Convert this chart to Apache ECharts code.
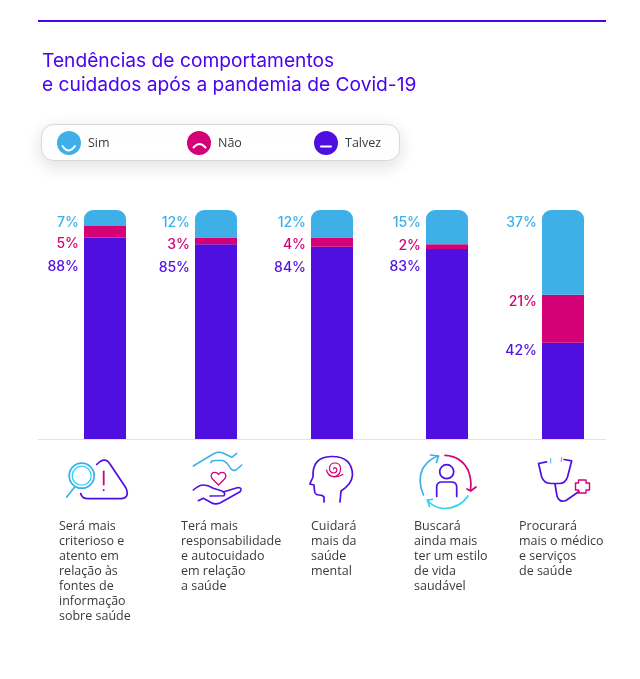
<!DOCTYPE html>
<html>
<head>
<meta charset="utf-8">
<style>
  html, body { margin: 0; background: #fff; }
  #chart { width: 640px; height: 679px; }
</style>
<script src="https://cdn.jsdelivr.net/npm/echarts@6/dist/echarts.min.js"></script>
</head>
<body>
<div id="chart"></div>
<script>
const categories = [
    'Será mais\ncriterioso e\natento em\nrelação às\nfontes de\ninformação\nsobre saúde',
    'Terá mais\nresponsabilidade\ne autocuidado\nem relação\na saúde',
    'Cuidará\nmais da\nsaúde\nmental',
    'Buscará\nainda mais\nter um estilo\nde vida\nsaudável',
    'Procurará\nmais o médico\ne serviços\nde saúde'
];
const sim = [7, 12, 12, 15, 37];
const nao = [5, 3, 4, 2, 21];
const talvez = [88, 85, 84, 83, 42];

const BLUE = '#3fafe8', PINK = '#d40075', PURPLE = '#4f0fe0', CYAN = '#2fd6f2';

// layout, the bars are not evenly spaced in the original so each one has its own grid
const barLeft = [84, 195, 311, 426, 542];
const textLeft = [59, 181, 311, 414, 519];
const labelDy = {
    Sim: [13, 13, 13, 13, 13],
    'Não': [18, 7, 7, 1, 7],
    Talvez: [29, 23, 21, 18, 8]
};

const grids = [], xAxes = [], yAxes = [], seriesList = [];
const stacks = [
    { name: 'Talvez', values: talvez, color: PURPLE, radius: 0 },
    { name: 'Não', values: nao, color: PINK, radius: 0 },
    { name: 'Sim', values: sim, color: BLUE, radius: [9, 9, 0, 0] }
];
categories.forEach(function (cat, i) {
    grids.push({ left: barLeft[i], width: 42, top: 210, height: 229 });
    xAxes.push({
        type: 'category', gridIndex: i, data: [cat],
        axisLine: { show: false }, axisTick: { show: false }, axisLabel: { show: false }
    });
    yAxes.push({ type: 'value', gridIndex: i, min: 0, max: 100, show: false });
    stacks.forEach(function (s) {
        seriesList.push({
            name: s.name,
            type: 'bar',
            stack: 'b' + i,
            xAxisIndex: i,
            yAxisIndex: i,
            barWidth: '100%',
            silent: true,
            animation: false,
            itemStyle: { color: s.color, borderRadius: s.radius },
            label: {
                show: true,
                position: [-5, labelDy[s.name][i]],
                align: 'right',
                verticalAlign: 'middle',
                formatter: '{c}%',
                color: s.color === PURPLE ? '#5212e6' : s.color,
                fontFamily: 'Inter',
                fontWeight: 500,
                fontSize: 14
            },
            data: [s.values[i]]
        });
    });
});

let shapeCount = 0;
function stroke(pathData, color, width) {
    // the graphic component has no plain path type, so every icon stroke is registered as a shape
    const shapeName = 'iconStroke' + (shapeCount++);
    echarts.graphic.registerShape(shapeName, echarts.graphic.extendPath(pathData));
    return {
        type: shapeName, z: 10, silent: true,
        style: { fill: 'none', stroke: color, lineWidth: width || 1.6, lineCap: 'round', lineJoin: 'round' }
    };
}
function ring(cx, cy, r, color, width) {
    return {
        type: 'circle', z: 10, silent: true,
        shape: { cx: cx, cy: cy, r: r },
        style: { fill: 'none', stroke: color, lineWidth: width || 1.6 }
    };
}

const graphics = [
    // top rule and axis rule
    { type: 'line', shape: { x1: 38, y1: 21, x2: 606, y2: 21 }, style: { stroke: '#4a06e8', lineWidth: 2 } },
    { type: 'line', shape: { x1: 38, y1: 439.5, x2: 606, y2: 439.5 }, style: { stroke: '#e2e2e6', lineWidth: 1 } },
    // legend box
    {
        type: 'rect', z: -1,
        shape: { x: 41.5, y: 124.5, width: 358, height: 36, r: 12 },
        style: { fill: '#fff', stroke: '#d8d8d8', lineWidth: 1, shadowBlur: 18, shadowColor: 'rgba(0,0,0,0.13)', shadowOffsetY: 5 }
    },
    // legend faces
    stroke('M62.5,146 Q68.5,155 75,146', '#fff', 2),
    stroke('M193.5,147.5 Q199.5,140.5 205.5,147.5', '#fff', 2),
    stroke('M321,146.5 L331,146.5', '#fff', 2),

    // icon 1
    ring(81.7, 475.7, 12.5, BLUE, 1.8),
    ring(81.7, 475.7, 9.5, CYAN, 1.3),
    stroke('M66.7,497 L74.3,487.5', BLUE, 1.7),
    stroke('M96.7,464.5 Q105,456 110,464 L126,488 Q130,498 121,498.7 L88,498.7 Q82,498.7 80.7,493.5', PURPLE, 1.7),
    stroke('M103.7,471.5 L103.7,484.5', PINK, 1.8),
    stroke('M103.7,489.8 L103.7,490.3', PINK, 1.8),

    // icon 2
    stroke('M193.3,466 L214,453.5 Q219,451 224,453.5 L231.7,457.3 L236.7,453.3', BLUE),
    stroke('M210.7,462.5 Q212,460.5 215,460.5 L222,460.5 Q226,461 229,466 Q232,472 236,470 L241.7,465', BLUE),
    stroke('M218.5,485 L212.5,479 Q209.5,475 213,472.7 Q216.5,471.5 218.5,474.5 Q220.5,471.5 224,472.7 Q227.5,475 224.5,479 Z', PINK, 1.3),
    stroke('M193.3,490 Q199,485 203.3,485 Q208,485 213.3,488.3 L222,491 Q226,493 224,495.7 L210,496', PURPLE),
    stroke('M198.3,500.7 L203.3,498.3 L211,502.5 Q215,505 220,503 L240,491.7 Q243,488 238,487.5 L224,491.7', PURPLE),

    // icon 3
    stroke('M324,502 L324,497 Q323,495 319,495 Q315,495 314.5,491 L314,485 L309.8,484 L313,477 Q312,457 331,456.5 Q352,456 352.5,475 Q352,484 341,491 L340,502', PURPLE, 1.7),
    stroke('M333.5,469 Q334.5,466.5 336.5,468.5 Q338,472 334,473 Q329.5,473 329.5,468 Q330,463 335,463 Q340,463 340.5,468 Q341,475 335,476.5 Q328,477 326.5,470', PINK, 1.2),
    stroke('M334,476.8 Q339,477 342.7,474.5', PINK, 1.2),

    // icon 4
    stroke('M445,455.3 Q461,456 468,470 Q472,480 470.5,490', PINK, 1.7),
    stroke('M467,489 L470.7,491 L476,487', PINK, 1.7),
    stroke('M423.5,495 Q417,480 423,468 Q429,459 438,456', BLUE, 1.7),
    stroke('M430.5,455 L438.5,456 L436.5,462.5', BLUE, 1.7),
    stroke('M468,496 Q460,508 444,508.5 Q434,508 427.5,500.5', CYAN, 1.7),
    stroke('M432.5,499.3 L427.3,500 L429.5,506.5', CYAN, 1.7),
    ring(446.7, 471.7, 7, PURPLE, 1.7),
    stroke('M436.7,496.5 L436.7,487 Q436.7,482 442,482 L451,482 Q456.7,482 456.7,487 L456.7,496.5', PURPLE, 1.7),

    // icon 5
    stroke('M546.5,461.8 L538.5,463.5 L541.7,477 Q544,483.5 551,483.5 L559,483.5 Q565.5,483.5 567.5,477 L571.7,460.8 L564,459.5', PURPLE, 1.7),
    stroke('M550.7,458.5 L550.7,463', BLUE, 1),
    stroke('M561.7,457.5 L561.2,461.5', BLUE, 1),
    stroke('M555,484 L557,496 Q559,503 566,500.5 L579,491.5', PURPLE, 1.7),
    stroke('M578.5,480 L586,480 L586,483 L589.5,483 L589.5,490 L586,490 L586,493 L578.5,493 L578.5,490 L575.5,490 L575.5,483 L578.5,483 Z', PINK, 1.4)
];

// category texts under the icons
categories.forEach(function (cat, i) {
    graphics.push({
        type: 'text', silent: true,
        x: textLeft[i], y: 519,
        style: { text: cat, fill: '#3a3a3a', font: '12.5px "Open Sans"', lineHeight: 15 }
    });
});

function legendItem(name, left) {
    return {
        data: [name], left: left, top: 131, padding: 0,
        icon: 'circle', itemWidth: 24, itemHeight: 24,
        selectedMode: false,
        textStyle: { color: '#3a3a3a', fontFamily: 'Open Sans', fontSize: 12.5, padding: [0, 0, 0, 2] }
    };
}

const myChart = echarts.init(document.getElementById('chart'), null, { renderer: 'canvas' });
myChart.setOption({
    backgroundColor: '#fff',
    animation: false,
    title: {
        text: 'Tendências de comportamentos\ne cuidados após a pandemia de Covid-19',
        left: 37, top: 44,
        textStyle: { color: '#4a06ee', fontFamily: 'Inter', fontSize: 19.2, fontWeight: 400, lineHeight: 24 }
    },
    legend: [legendItem('Sim', 57), legendItem('Não', 187), legendItem('Talvez', 314)],
    grid: grids,
    xAxis: xAxes,
    yAxis: yAxes,
    series: seriesList,
    graphic: graphics
});
</script>
</body>
</html>
